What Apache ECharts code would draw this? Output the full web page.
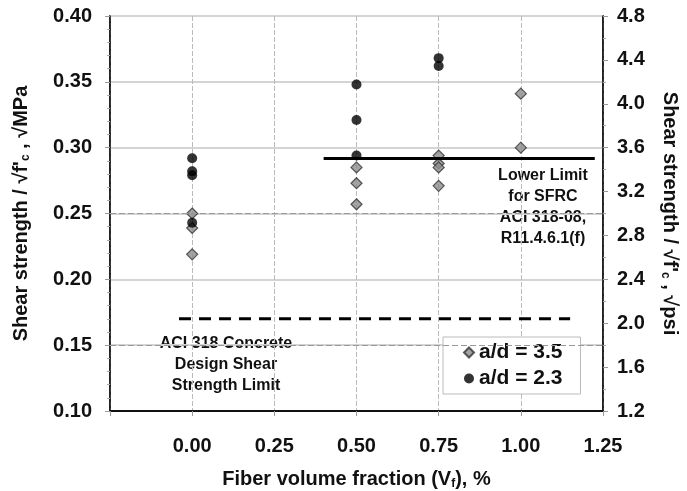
<!DOCTYPE html>
<html>
<head>
<meta charset="utf-8">
<script src="https://cdn.jsdelivr.net/npm/echarts@6/dist/echarts.min.js"></script>
<style>
  html, body { margin: 0; padding: 0; background: #fff; }
  #chart { width: 687px; height: 491px; }
</style>
</head>
<body>
<div id="chart"></div>
<script>
// Fiber volume fraction (%) and normalized shear strength (√MPa) per specimen group
const fiberAd35 = [0, 0, 0, 0.5, 0.5, 0.5, 0.75, 0.75, 0.75, 0.75, 1.0, 1.0];
const shearAd35 = [0.250, 0.239, 0.219, 0.285, 0.273, 0.257, 0.294, 0.288, 0.285, 0.271, 0.341, 0.300];
const fiberAd23 = [0, 0, 0, 0, 0.5, 0.5, 0.5, 0.75, 0.75];
const shearAd23 = [0.292, 0.282, 0.279, 0.243, 0.348, 0.321, 0.294, 0.368, 0.362];

// Code limits (√MPa): ACI 318 concrete limit and SFRC lower limit
const aciConcreteX = [-0.04, 1.15];
const aciConcreteY = 0.17;
const sfrcLowerX = [0.40, 1.225];
const sfrcLowerY = 0.2917;

// Axis ticks
const xTicks = { min: -0.25, max: 1.25, step: 0.25 };
const yLeftTicks = { min: 0.10, max: 0.40, step: 0.05 };
const yRightTicks = { min: 1.2, max: 4.8, step: 0.4 };

const seriesNames = ['a/d = 3.5', 'a/d = 2.3'];

const FONT = '"Liberation Sans", Arial, sans-serif';
const pair = (xs, ys) => xs.map((x, i) => [x, ys[i]]);

const subStyle = { s: { fontFamily: FONT, fontWeight: 'bold', fontSize: 12, color: '#111', padding: [9, 0, 0, 0] } };

const chart = echarts.init(document.getElementById('chart'));

chart.setOption({
  animation: false,
  backgroundColor: '#fff',
  textStyle: { fontFamily: FONT },
  grid: {
    left: 110, right: 84, top: 16, bottom: 80,
    outerBoundsMode: 'none',
    containLabel: false,
    show: true, borderColor: '#222', borderWidth: 1.5
  },
  legend: {
    data: [
      { name: seriesNames[0], icon: 'diamond' },
      { name: seriesNames[1], icon: 'circle' }
    ],
    orient: 'vertical',
    left: 443, top: 337,
    padding: [5, 18, 5, 20],
    itemGap: 5,
    itemWidth: 10, itemHeight: 10,
    borderColor: '#bbb', borderWidth: 1,
    backgroundColor: '#fff',
    textStyle: { fontFamily: FONT, fontWeight: 'bold', fontSize: 21, color: '#111' }
  },
  xAxis: {
    type: 'value',
    min: xTicks.min, max: xTicks.max, interval: xTicks.step,
    name: 'Fiber volume fraction (V{s|f}), %',
    nameLocation: 'middle', nameGap: 58,
    nameTextStyle: {
      fontFamily: FONT, fontWeight: 'bold', fontSize: 20, color: '#111',
      rich: subStyle
    },
    axisLine: { show: true, onZero: false, lineStyle: { color: '#111', width: 2 } },
    axisTick: { show: true, inside: false, length: 5, lineStyle: { color: '#999' } },
    axisLabel: {
      margin: 25, fontFamily: FONT, fontWeight: 'bold', fontSize: 20, color: '#111',
      formatter: v => (v < 0 ? '' : v.toFixed(2))
    },
    splitLine: { show: true, lineStyle: { color: '#bbb', width: 1, type: [5, 2] } }
  },
  yAxis: [
    {
      type: 'value',
      min: yLeftTicks.min, max: yLeftTicks.max, interval: yLeftTicks.step,
      position: 'left',
      name: "Shear strength / √f'{s|c} , √MPa",
      nameLocation: 'middle', nameGap: 78, nameRotate: 90,
      nameTextStyle: {
        fontFamily: FONT, fontWeight: 'bold', fontSize: 20, color: '#111',
        rich: subStyle
      },
      axisLine: { show: true, onZero: false, lineStyle: { color: '#111', width: 1.5 } },
      axisTick: { show: true, length: 5, lineStyle: { color: '#999' } },
      minorTick: { show: true, splitNumber: 5, length: 3, lineStyle: { color: '#aaa' } },
      axisLabel: {
        margin: 18, fontFamily: FONT, fontWeight: 'bold', fontSize: 20, color: '#111',
        formatter: v => v.toFixed(2)
      },
      splitLine: { show: true, lineStyle: { color: '#d4d4d4', width: 2 } }
    },
    {
      type: 'value',
      min: yRightTicks.min, max: yRightTicks.max, interval: yRightTicks.step,
      position: 'right',
      name: "Shear strength / √f'{s|c} , √psi",
      nameLocation: 'middle', nameGap: 56, nameRotate: -90,
      nameTextStyle: {
        fontFamily: FONT, fontWeight: 'bold', fontSize: 20, color: '#111',
        rich: subStyle
      },
      axisLine: { show: true, onZero: false, lineStyle: { color: '#111', width: 1.5 } },
      axisTick: { show: true, length: 5, lineStyle: { color: '#999' } },
      minorTick: { show: true, splitNumber: 2, length: 3, lineStyle: { color: '#aaa' } },
      axisLabel: {
        margin: 14, fontFamily: FONT, fontWeight: 'bold', fontSize: 20, color: '#111',
        formatter: v => v.toFixed(1)
      },
      splitLine: { show: false }
    }
  ],
  series: [
    {
      // dashed grid overlay at the 0.15 and 0.25 levels
      type: 'line', silent: true, data: [],
      markLine: {
        silent: true, symbol: 'none', label: { show: false },
        lineStyle: { color: '#999', width: 1, type: [6, 3] },
        data: [{ yAxis: 0.15 }, { yAxis: 0.25 }]
      }
    },
    {
      name: 'ACI 318 concrete limit',
      type: 'line', silent: true, symbol: 'none',
      data: aciConcreteX.map(x => [x, aciConcreteY]),
      lineStyle: { color: '#000', width: 3, type: [12, 8] }
    },
    {
      name: 'SFRC lower limit',
      type: 'line', silent: true, symbol: 'none',
      data: sfrcLowerX.map(x => [x, sfrcLowerY]),
      lineStyle: { color: '#000', width: 3 }
    },
    {
      name: seriesNames[0],
      type: 'scatter',
      symbol: 'diamond', symbolSize: 11,
      data: pair(fiberAd35, shearAd35),
      itemStyle: { color: '#8c8c8c', borderColor: '#333', borderWidth: 1.2 }
    },
    {
      name: seriesNames[1],
      type: 'scatter',
      symbol: 'circle', symbolSize: 10,
      data: pair(fiberAd23, shearAd23),
      itemStyle: { color: '#000' }
    }
  ],
  graphic: [
    {
      type: 'text', x: 543, y: 165,
      style: {
        text: 'Lower Limit\nfor SFRC\nACI 318-08,\nR11.4.6.1(f)',
        font: 'bold 16px ' + FONT, fill: '#111', align: 'center', lineHeight: 21
      }
    },
    {
      type: 'text', x: 226, y: 333,
      style: {
        text: 'ACI 318 Concrete\nDesign Shear\nStrength Limit',
        font: 'bold 16px ' + FONT, fill: '#111', align: 'center', lineHeight: 21
      }
    }
  ]
});
</script>
</body>
</html>
